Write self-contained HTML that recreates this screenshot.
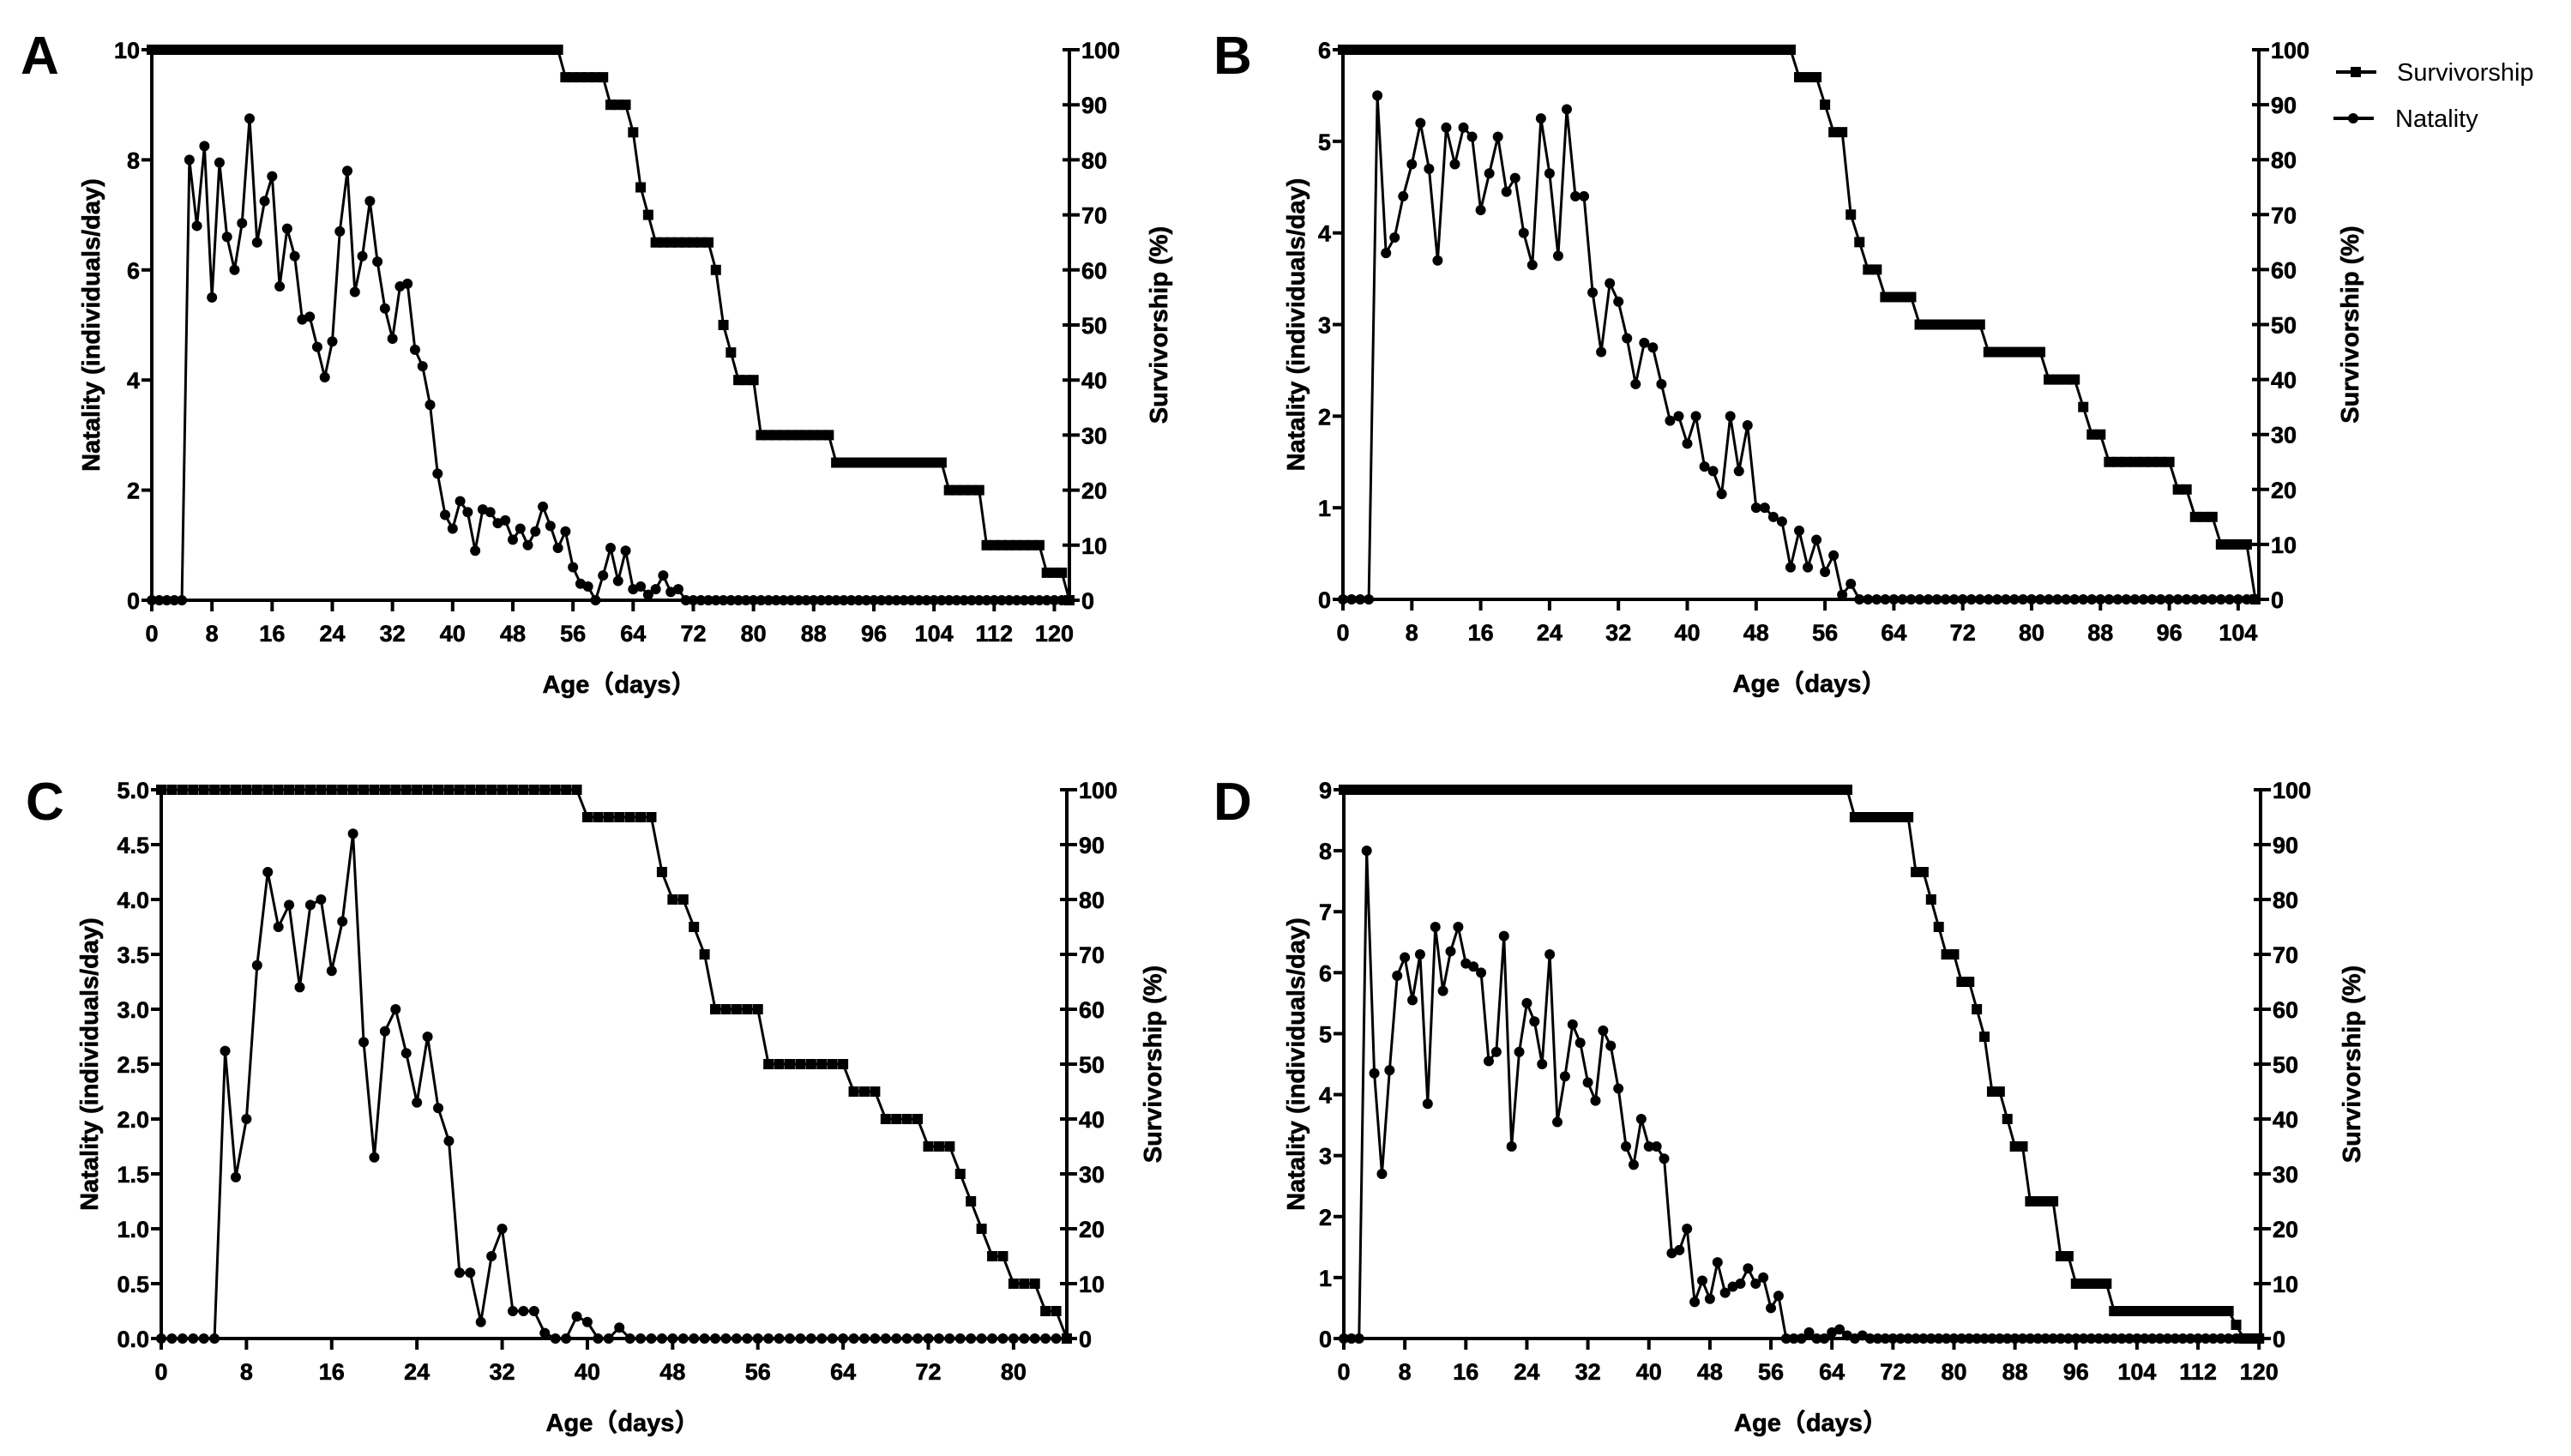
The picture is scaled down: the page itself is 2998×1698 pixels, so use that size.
<!DOCTYPE html>
<html><head><meta charset="utf-8"><style>
html,body{margin:0;padding:0;background:#fff;}
svg{display:block;}
text{font-family:"Liberation Sans","Noto Sans CJK SC",sans-serif;fill:#000;}
.tk{font-weight:bold;font-size:27px;stroke:#000;stroke-width:0.6px;}
.ttl{font-weight:bold;font-size:29px;stroke:#000;stroke-width:0.6px;}
.let{font-weight:bold;font-size:62px;}
.leg{font-size:29px;}
</style></head><body>
<svg id="chart" width="2998" height="1698" viewBox="0 0 2998 1698" xmlns="http://www.w3.org/2000/svg">
<g>
<g><line x1="2724" y1="84" x2="2771" y2="84" stroke="#000" stroke-width="4"/><rect x="2741" y="78" width="12" height="12" fill="#000"/><text class="leg" x="2795" y="94">Survivorship</text></g>
<g><line x1="2721" y1="138" x2="2768" y2="138" stroke="#000" stroke-width="4"/><circle cx="2744" cy="138" r="6" fill="#000"/><text class="leg" x="2793" y="148">Natality</text></g>
</g>
</svg>
<script>
// ---- Panel A data ----
const natalityA = [0,0,0,0,0,8.0,6.8,8.25,5.5,7.95,
6.6,6.0,6.85,8.75,6.5,7.25,7.7,5.7,6.75,6.25,
5.1,5.15,4.6,4.05,4.7,6.7,7.8,5.6,6.25,7.25,
6.15,5.3,4.75,5.7,5.75,4.55,4.25,3.55,2.3,1.55,
1.3,1.8,1.6,0.9,1.65,1.6,1.4,1.45,1.1,1.3,
1.0,1.25,1.7,1.35,0.95,1.25,0.6,0.3,0.25,0,
0.45,0.95,0.35,0.9,0.2,0.25,0.1,0.2,0.45,0.15,
0.2,0,0,0,0,0,0,0,0,0,
0,0,0,0,0,0,0,0,0,0,
0,0,0,0,0,0,0,0,0,0,
0,0,0,0,0,0,0,0,0,0,
0,0,0,0,0,0,0,0,0,0,
0,0,0];
const survivalA = [100,100,100,100,100,100,100,100,100,100,
100,100,100,100,100,100,100,100,100,100,
100,100,100,100,100,100,100,100,100,100,
100,100,100,100,100,100,100,100,100,100,
100,100,100,100,100,100,100,100,100,100,
100,100,100,100,100,95,95,95,95,95,
95,90,90,90,85,75,70,65,65,65,
65,65,65,65,65,60,50,45,40,40,
40,30,30,30,30,30,30,30,30,30,
30,25,25,25,25,25,25,25,25,25,
25,25,25,25,25,25,20,20,20,20,
20,10,10,10,10,10,10,10,10,5,
5,5,0];
const ticksXA = [0,8,16,24,32,40,48,56,64,72,80,88,96,104,112,120];
const ticksYA = [0,2,4,6,8,10];
const ticksRA = [0,10,20,30,40,50,60,70,80,90,100];
// ---- Panel B data ----
const natalityB = [0,0,0,0,5.5,3.78,3.95,4.4,4.75,5.2,
4.7,3.7,5.15,4.75,5.15,5.05,4.25,4.65,5.05,4.45,
4.6,4.0,3.65,5.25,4.65,3.75,5.35,4.4,4.4,3.35,
2.7,3.45,3.25,2.85,2.35,2.8,2.75,2.35,1.95,2.0,
1.7,2.0,1.45,1.4,1.15,2.0,1.4,1.9,1.0,1.0,
0.9,0.85,0.35,0.75,0.35,0.65,0.3,0.48,0.05,0.17,
0,0,0,0,0,0,0,0,0,0,
0,0,0,0,0,0,0,0,0,0,
0,0,0,0,0,0,0,0,0,0,
0,0,0,0,0,0,0,0,0,0,
0,0,0,0,0,0,0];
const survivalB = [100,100,100,100,100,100,100,100,100,100,
100,100,100,100,100,100,100,100,100,100,
100,100,100,100,100,100,100,100,100,100,
100,100,100,100,100,100,100,100,100,100,
100,100,100,100,100,100,100,100,100,100,
100,100,100,95,95,95,90,85,85,70,
65,60,60,55,55,55,55,50,50,50,
50,50,50,50,50,45,45,45,45,45,
45,45,40,40,40,40,35,30,30,25,
25,25,25,25,25,25,25,20,20,15,
15,15,10,10,10,10,0];
const ticksXB = [0,8,16,24,32,40,48,56,64,72,80,88,96,104];
const ticksYB = [0,1,2,3,4,5,6];
const ticksRB = [0,10,20,30,40,50,60,70,80,90,100];
// ---- Panel C data ----
const natalityC = [0,0,0,0,0,0,2.62,1.47,2.0,3.4,
4.25,3.75,3.95,3.2,3.95,4.0,3.35,3.8,4.6,2.7,
1.65,2.8,3.0,2.6,2.15,2.75,2.1,1.8,0.6,0.6,
0.15,0.75,1.0,0.25,0.25,0.25,0.05,0,0,0.2,
0.15,0,0,0.1,0,0,0,0,0,0,
0,0,0,0,0,0,0,0,0,0,
0,0,0,0,0,0,0,0,0,0,
0,0,0,0,0,0,0,0,0,0,
0,0,0,0,0,0];
const survivalC = [100,100,100,100,100,100,100,100,100,100,
100,100,100,100,100,100,100,100,100,100,
100,100,100,100,100,100,100,100,100,100,
100,100,100,100,100,100,100,100,100,100,
95,95,95,95,95,95,95,85,80,80,
75,70,60,60,60,60,60,50,50,50,
50,50,50,50,50,45,45,45,40,40,
40,40,35,35,35,30,25,20,15,15,
10,10,10,5,5,0];
const ticksXC = [0,8,16,24,32,40,48,56,64,72,80];
const ticksYC = [0,0.5,1.0,1.5,2.0,2.5,3.0,3.5,4.0,4.5,5.0];
const ticksRC = [0,10,20,30,40,50,60,70,80,90,100];
// ---- Panel D data ----
const natalityD = [0,0,0,8.0,4.35,2.7,4.4,5.95,6.25,5.55,
6.3,3.85,6.75,5.7,6.35,6.75,6.15,6.1,6.0,4.55,
4.7,6.6,3.15,4.7,5.5,5.2,4.5,6.3,3.55,4.3,
5.15,4.85,4.2,3.9,5.05,4.8,4.1,3.15,2.85,3.6,
3.15,3.15,2.95,1.4,1.45,1.8,0.6,0.95,0.65,1.25,
0.75,0.85,0.9,1.15,0.9,1.0,0.5,0.7,0,0,
0,0.1,0,0,0.1,0.15,0.05,0,0.05,0,
0,0,0,0,0,0,0,0,0,0,
0,0,0,0,0,0,0,0,0,0,
0,0,0,0,0,0,0,0,0,0,
0,0,0,0,0,0,0,0,0,0,
0,0,0,0,0,0,0,0,0,0,
0];
const survivalD = [100,100,100,100,100,100,100,100,100,100,
100,100,100,100,100,100,100,100,100,100,
100,100,100,100,100,100,100,100,100,100,
100,100,100,100,100,100,100,100,100,100,
100,100,100,100,100,100,100,100,100,100,
100,100,100,100,100,100,100,100,100,100,
100,100,100,100,100,100,100,95,95,95,
95,95,95,95,95,85,85,80,75,70,
70,65,65,60,55,45,45,40,35,35,
25,25,25,25,15,15,10,10,10,10,
10,5,5,5,5,5,5,5,5,5,
5,5,5,5,5,5,5,2.5,0,0,
0];
const ticksXD = [0,8,16,24,32,40,48,56,64,72,80,88,96,104,112,120];
const ticksYD = [0,1,2,3,4,5,6,7,8,9];
const ticksRD = [0,10,20,30,40,50,60,70,80,90,100];

const NS = "http://www.w3.org/2000/svg";
const svg = document.getElementById('chart');
function mk(tag, attrs, parent){
  const e = document.createElementNS(NS, tag);
  for (const k in attrs) e.setAttribute(k, attrs[k]);
  parent.appendChild(e);
  return e;
}
function panel(letter, nat, surv, tx, ty, tr, ymax, xmax, L, R, T, B, letX, letY, leftTitleX, rightTitleX, decimals){
  const g = mk('g', {}, svg);
  
  
  const xs = d => L + (d / xmax) * (R - L);
  const yl = v => B - (v / ymax) * (B - T);
  const yr = v => B - (v / 100) * (B - T);
  const lt = mk('text', {x: letX, y: letY, class: 'let'}, g); lt.textContent = letter;
  
  
  let sp = '';
  surv.forEach((v, i) => { sp += (i ? 'L' : 'M') + xs(i).toFixed(2) + ' ' + yr(v).toFixed(2); });
  const sl = mk('path', {d: sp, fill: 'none', stroke: '#000', 'stroke-width': 3}, g);
  
  
  surv.forEach((v, i) => {
    const r = mk('rect', {x: xs(i) - 6, y: yr(v) - 6, width: 12, height: 12, fill: '#000'}, g);
    
    
  });
  let np = '';
  nat.forEach((v, i) => { np += (i ? 'L' : 'M') + xs(i).toFixed(2) + ' ' + yl(v).toFixed(2); });
  const nl = mk('path', {d: np, fill: 'none', stroke: '#000', 'stroke-width': 3}, g);
  
  
  nat.forEach((v, i) => {
    const c = mk('circle', {cx: xs(i), cy: yl(v), r: 6, fill: '#000'}, g);
    
    
  });
  const ax = mk('path', {d: `M${L} ${T-2}V${B}H${R}M${R} ${B}V${T-2}`, fill: 'none', stroke: '#000', 'stroke-width': 4}, g);
  
  
  tx.forEach(t => {
    mk('line', {x1: xs(t), y1: B, x2: xs(t), y2: B + 13, stroke: '#000', 'stroke-width': 4}, g);
    const e = mk('text', {x: xs(t), y: B + 48, class: 'tk', 'text-anchor': 'middle'}, g);
    e.textContent = t;
    
    
  });
  ty.forEach(t => {
    mk('line', {x1: L - 12, y1: yl(t), x2: L, y2: yl(t), stroke: '#000', 'stroke-width': 4}, g);
    const e = mk('text', {x: L - 14, y: yl(t) + 10, class: 'tk', 'text-anchor': 'end'}, g);
    e.textContent = decimals ? t.toFixed(1) : t;
    
    
  });
  tr.forEach(t => {
    mk('line', {x1: R - 8, y1: yr(t), x2: R + 12, y2: yr(t), stroke: '#000', 'stroke-width': 4}, g);
    const e = mk('text', {x: R + 14, y: yr(t) + 10, class: 'tk'}, g);
    e.textContent = t;
    
    
  });
  const xt = mk('text', {x: (L + R) / 2 + 10, y: B + 108, class: 'ttl', 'text-anchor': 'middle'}, g);
  xt.textContent = 'Age（days）';
  
  
  const cy = (T + B) / 2;
  const yt = mk('text', {x: leftTitleX, y: cy, class: 'ttl', 'text-anchor': 'middle', transform: `rotate(-90 ${leftTitleX} ${cy})`}, g);
  yt.textContent = 'Natality (individuals/day)';
  
  
  const rt = mk('text', {x: rightTitleX, y: cy, class: 'ttl', 'text-anchor': 'middle', transform: `rotate(-90 ${rightTitleX} ${cy})`}, g);
  rt.textContent = 'Survivorship (%)';
  
  
}
panel('A', natalityA, survivalA, ticksXA, ticksYA, ticksRA, 10, 122, 177, 1247, 58, 700, 24, 86, 116, 1361, false);
panel('B', natalityB, survivalB, ticksXB, ticksYB, ticksRB, 6, 106.4, 1566, 2634, 58, 699, 1415, 86, 1521, 2750, false);
panel('C', natalityC, survivalC, ticksXC, ticksYC, ticksRC, 5, 85, 188, 1244, 921, 1561, 30, 956, 114, 1354, true);
panel('D', natalityD, survivalD, ticksXD, ticksYD, ticksRD, 9, 120.2, 1567, 2636, 921, 1561, 1415, 956, 1521, 2752, false);
</script>
</body></html>
